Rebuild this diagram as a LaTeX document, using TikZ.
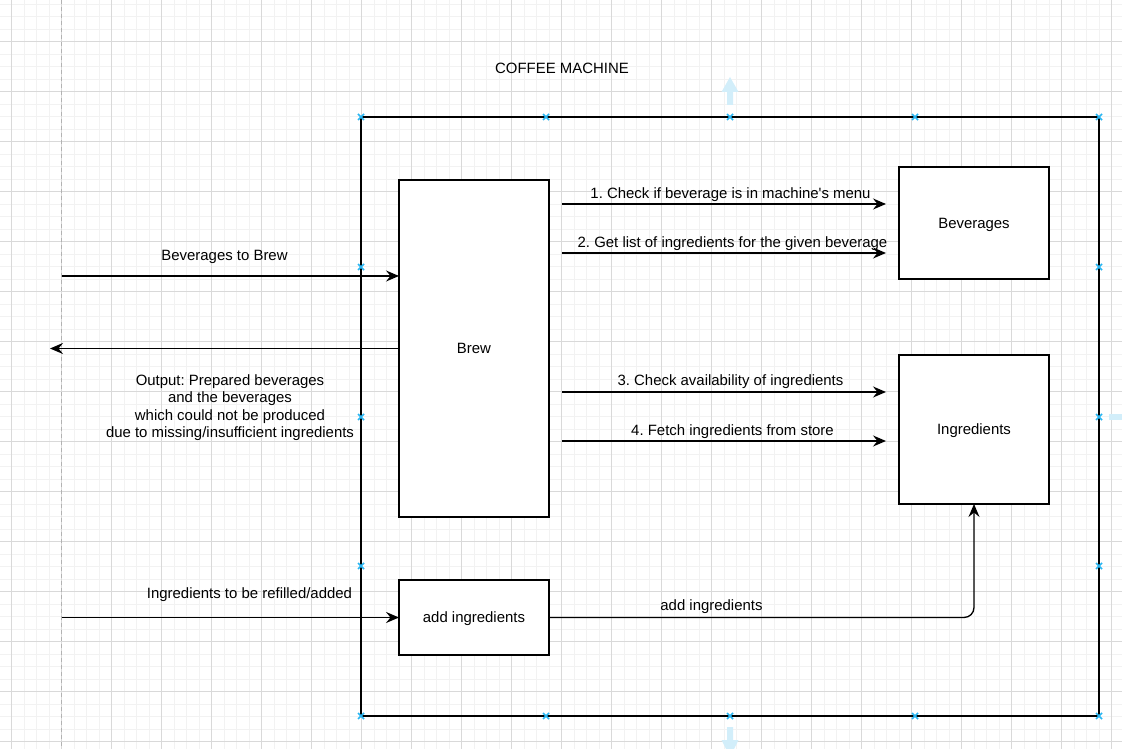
\documentclass[tikz,border=0pt]{standalone}
\usepackage{fontspec}
\setmainfont{Liberation Sans}
\usetikzlibrary{arrows.meta}
\definecolor{handleblue}{HTML}{29B6F2}
\definecolor{hintblue}{HTML}{D2EEFA}
\frenchspacing
\tikzset{
	box/.style={draw=black, line width=0.75pt, fill=white, inner sep=0pt, outer sep=0pt, text depth=0pt, font=\fontsize{8.5}{10}\selectfont},
	flow/.style={line width=0.75pt, -{Stealth[length=2.6mm,width=2.2mm,inset=0.9mm]}},
	txt/.style={font=\fontsize{8.5}{10}\selectfont, align=center, inner sep=0pt, text depth=0pt},
	gridminor/.style={color=black!5, line width=0.5pt},
	gridmajor/.style={color=black!15, line width=0.5pt},
	handle/.style={color=handleblue, line width=0.9pt},
}

\begin{document}
\begin{tikzpicture}[x=0.02cm, y=-0.02cm]
			%%%%% START %%%%%
			
			\useasboundingbox[fill=white] (0,0) rectangle (1122,749);
			
			\foreach \i in {0,...,90} {\draw[gridminor] ({-0.8+12.5*\i},0) -- ({-0.8+12.5*\i},749);}
			\foreach \i in {0,...,61} {\draw[gridminor] (0,{-8.3+12.5*\i}) -- (1122,{-8.3+12.5*\i});}
			\foreach \i in {0,...,22} {\draw[gridmajor] ({11.7+50*\i},0) -- ({11.7+50*\i},749);}
			\foreach \i in {0,...,14} {\draw[gridmajor] (0,{41.7+50*\i}) -- (1122,{41.7+50*\i});}
			
			\draw[color=black!30, line width=0.6pt, dash pattern=on 0.08cm off 0.06cm] (61.7,0) -- (61.7,749);
			
			% container
			\node[box, fill=none, minimum width=14.76cm, minimum height=11.98cm] (machine) at (730,416.5) {};
			\node[txt] (title) at (562,68) {COFFEE MACHINE};
			
			% boxes
			\node[box, minimum width=3cm, minimum height=6.74cm] (brew) at (474,348.5) {Brew};
			\node[box, minimum width=3cm, minimum height=2.24cm] (bev) at (974,223) {Beverages};
			\node[box, minimum width=3cm, minimum height=2.98cm] (ingr) at (974,429.5) {Ingredients};
			\node[box, minimum width=3cm, minimum height=1.5cm] (add) at (474,617.5) {add ingredients};
			
			% free ends
			\coordinate (bevin) at (62,276);
			\coordinate (out) at (50,348.5);
			\coordinate (refill) at (62,617.5);
			\coordinate (c1s) at (562,204);
			\coordinate (c1e) at (886,204);
			\coordinate (c2s) at (562,253);
			\coordinate (c2e) at (886,253);
			\coordinate (c3s) at (562,392);
			\coordinate (c3e) at (886,392);
			\coordinate (c4s) at (562,441);
			\coordinate (c4e) at (886,441);
			
			\draw[flow] (bevin) -- (bevin -| brew.west);
			\node[txt] (bevlbl) at (224.5,255) {Beverages to Brew};
			
			\draw[flow] (brew.west) -- (out);
			\node[txt] (outlbl) at (230,406) {Output: Prepared beverages\\and the beverages\\which could not be produced\\due to missing/insufficient ingredients};
			
			\draw[flow] (refill) -- (add.west);
			\node[txt] (refilllbl) at (249.5,593) {Ingredients to be refilled/added};
			
			\draw[flow, rounded corners=0.2cm] (add.east) -| (ingr.south);
			\node[txt] (addlbl) at (711.5,605) {add ingredients};
			
			\draw[flow] (c1s) -- (c1e);
			\node[txt] (l1) at (730.5,193) {1. Check if beverage is in machine\textquotesingle s menu};
			\draw[flow] (c2s) -- (c2e);
			\node[txt] (l2) at (732.5,242) {2. Get list of ingredients for the given beverage};
			\draw[flow] (c3s) -- (c3e);
			\node[txt] (l3) at (730.5,380) {3. Check availability of ingredients};
			\draw[flow] (c4s) -- (c4e);
			\node[txt] (l4) at (732.5,430) {4. Fetch ingredients from store};
			
			% selection handles
			\foreach \hx/\hy in {361/117, 546/117, 730/117, 915/117, 1099/117, 361/267, 361/417, 361/566, 361/716, 546/716, 730/716, 915/716, 1099/716, 1099/267, 1099/417, 1099/566}
			{\draw[handle] (\hx-3,\hy-3) -- (\hx+3,\hy+3) (\hx-3,\hy+3) -- (\hx+3,\hy-3);}
			
			\fill[hintblue] (727,105) -- (727,92) -- (721.5,92) -- (730,77) -- (738.5,92) -- (733,92) -- (733,105) -- cycle;
			\fill[hintblue] (727,727) -- (733,727) -- (733,740) -- (738.5,740) -- (734,749) -- (726,749) -- (721.5,740) -- (727,740) -- cycle;
			\fill[hintblue] (1109,414) rectangle (1122,420);
			
			%%%%% END %%%%%
\end{tikzpicture}
\end{document}
